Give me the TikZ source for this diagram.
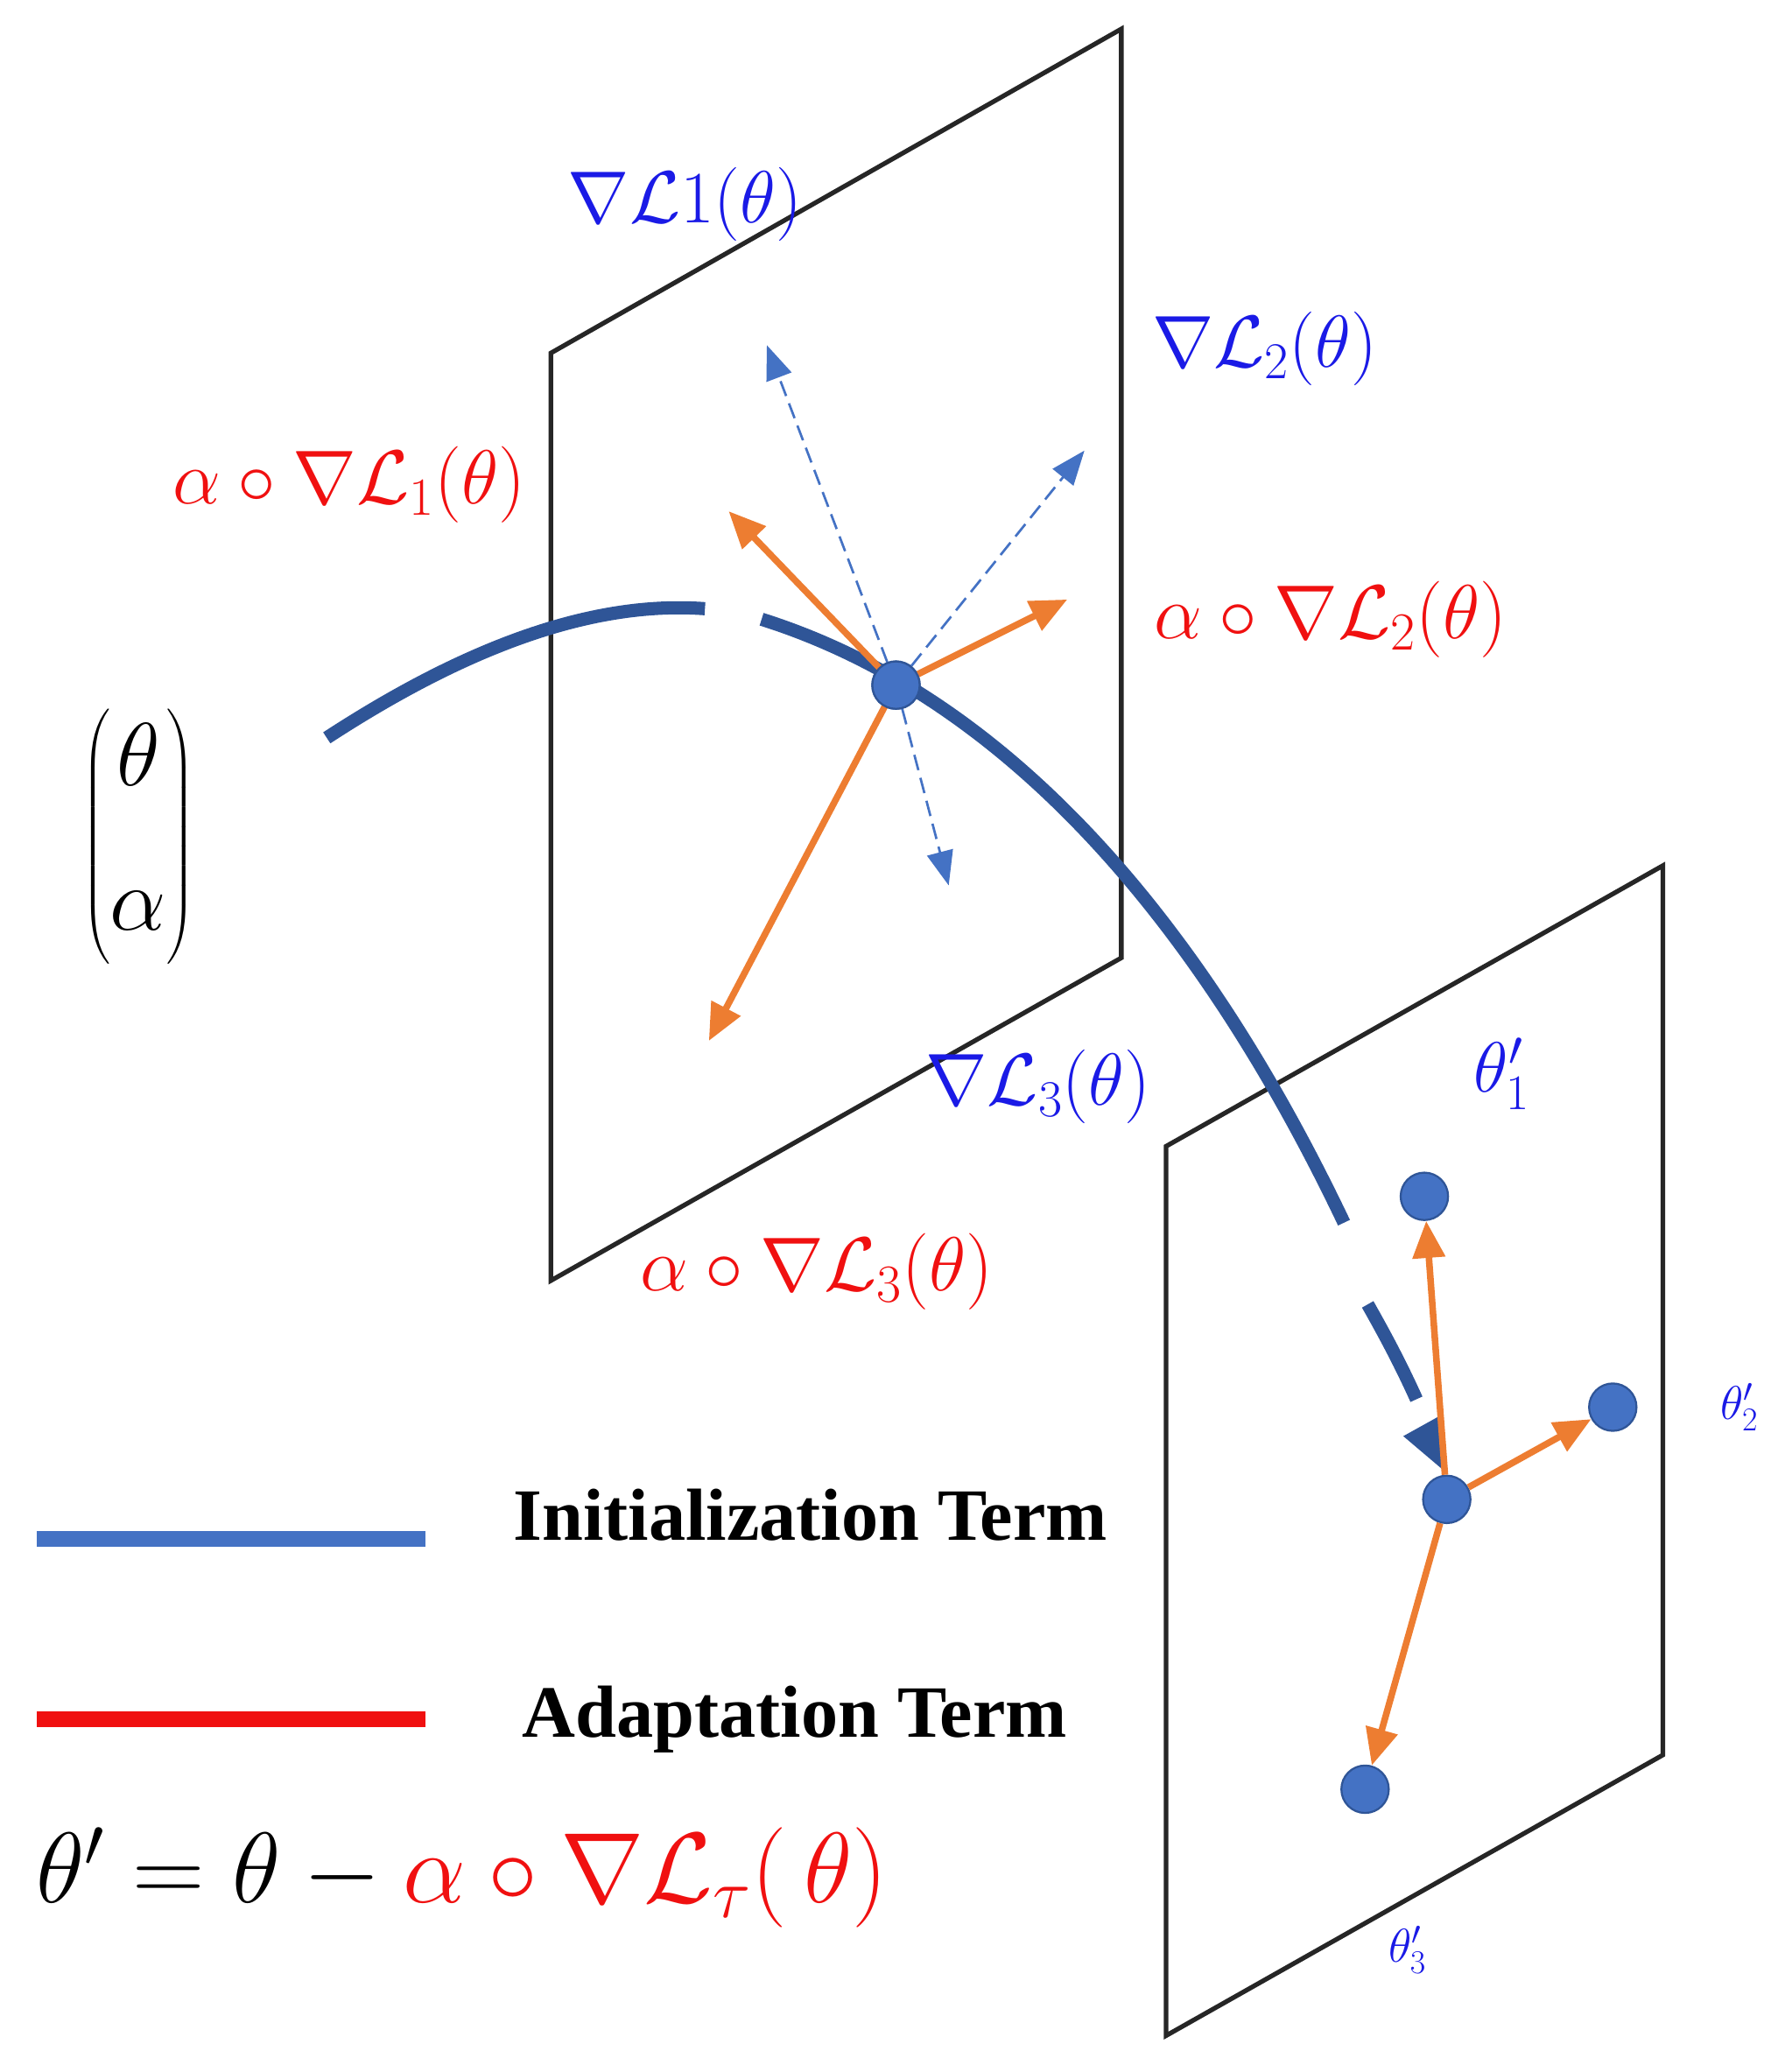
\RequirePackage{fix-cm}
\documentclass[tikz,border=0pt]{standalone}
\usepackage{amsmath}
\usepackage{fontspec}
\setmainfont{Liberation Serif}
\usetikzlibrary{arrows.meta}
\definecolor{pblue}{HTML}{4472C4}
\definecolor{dblue}{HTML}{2F5597}
\definecolor{porange}{HTML}{ED7D31}
\definecolor{lblue}{HTML}{1A1AE6}
\definecolor{lred}{HTML}{F01010}
\tikzset{
 plane/.style={draw=black!85,line width=3.5pt},
 pt/.style={circle,fill=pblue,draw=dblue,line width=1.5pt,minimum size=36pt,inner sep=0pt},
 dash arrow/.style={pblue,line width=1.8pt,dash pattern=on 12pt off 6pt,-{Triangle[length=26pt,width=20pt]}},
 or arrow/.style={porange,line width=5pt,-{Triangle[length=28pt,width=24pt]}},
 curve/.style={dblue,line width=10pt},
 bl/.style={text=lblue,font=\fontsize{56}{64}\selectfont},
 rd/.style={text=lred,font=\fontsize{58}{66}\selectfont},
}
\begin{document}
\begin{tikzpicture}[x=1pt,y=-1pt]
\useasboundingbox (0,0) rectangle (1360,1562);
\draw[plane] (418,268) -- (851,22) -- (851,727) -- (418,972) -- cycle;
\draw[plane] (885,870) -- (1262,657) -- (1262,1332) -- (885,1545) -- cycle;
% curve
\draw[curve] (248,560) .. controls (340,500) and (440,455) .. (535,462);
\draw[curve] (578,470) .. controls (800,540) and (940,760) .. (1020,928);
\draw[curve] (1038,990) .. controls (1055,1020) and (1065,1040) .. (1075,1062);
\node[pt] (c) at (680,520) {};
\coordinate (d1) at (582,262);
\coordinate (d2) at (823,342);
\coordinate (d3) at (720,672);
\coordinate (o1) at (553,388);
\coordinate (o2) at (810,455);
\coordinate (o3) at (538,790);
\draw[dash arrow] (c) -- (d1);
\draw[dash arrow] (c) -- (d2);
\draw[dash arrow] (c) -- (d3);
\draw[or arrow] (c.center) -- (o1);
\draw[or arrow] (c.center) -- (o2);
\draw[or arrow] (c.center) -- (o3);
\node[pt] at (680,520) {};
% arrowhead of curve
\fill[dblue] (1065,1090) -- (1092,1075) -- (1098,1118) -- cycle;
% plane 2
\node[pt] (p0) at (1098,1138) {};
\node[pt] (p1) at (1081,908) {};
\node[pt] (p2) at (1224,1068) {};
\node[pt] (p3) at (1036,1358) {};
\draw[or arrow] (p0) -- (p1);
\draw[or arrow] (p0) -- (p2);
\draw[or arrow] (p0) -- (p3);
% labels
\node[bl] (l1) at (520,155) {$\nabla\mathcal{L}1(\theta)$};
\node[bl] (l2) at (960,265) {$\nabla\mathcal{L}_2(\theta)$};
\node[bl] (l3) at (788,825) {$\nabla\mathcal{L}_3(\theta)$};
\node[rd] (r1) at (265,368) {$\alpha\circ\nabla\mathcal{L}_1(\theta)$};
\node[rd] (r2) at (1010,470) {$\alpha\circ\nabla\mathcal{L}_2(\theta)$};
\node[rd] (r3) at (620,965) {$\alpha\circ\nabla\mathcal{L}_3(\theta)$};
\node[text=lblue,font=\fontsize{54}{60}\selectfont] (t1) at (1140,815) {$\theta'_1$};
\node[text=lblue,font=\fontsize{36}{42}\selectfont] (t2) at (1320,1068) {$\theta'_2$};
\node[text=lblue,font=\fontsize{36}{42}\selectfont] (t3) at (1068,1480) {$\theta'_3$};
\node[font=\fontsize{68}{80}\selectfont] (m) at (105,635) {$\begin{pmatrix}\theta\\[30pt]\alpha\end{pmatrix}$};
% legend
\draw[pblue,line width=12pt] (28,1168) -- (323,1168);
\draw[lred,line width=12pt] (28,1305) -- (323,1305);
\node[font=\fontsize{56}{64}\selectfont\bfseries] (li) at (615,1150) {Initialization Term};
\node[font=\fontsize{56}{64}\selectfont\bfseries] (la) at (603,1305) {Adaptation Term};
\node[font=\fontsize{76}{88}\selectfont,anchor=west] (eq) at (24,1425) {$\theta'=\theta-{\color{lred}\alpha\circ\nabla\mathcal{L}_\tau(\,\theta)}$};
\end{tikzpicture}
\end{document}
